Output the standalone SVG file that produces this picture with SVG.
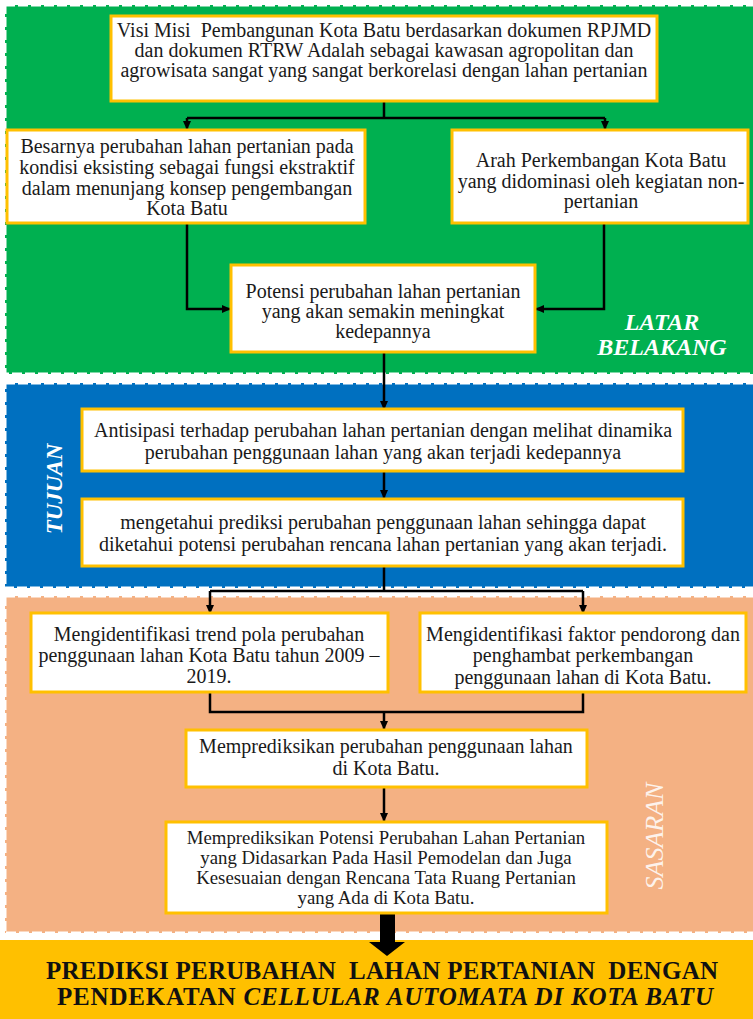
<svg xmlns="http://www.w3.org/2000/svg" width="753" height="1019" viewBox="0 0 753 1019">
<style>
.panel{stroke:#fff;stroke-width:3;stroke-dasharray:10 3}
.box{fill:#fff;stroke:#FFC000;stroke-width:3}
.t{font-family:"Liberation Serif","Times New Roman",serif;font-size:20px;fill:#1a1a1a;text-anchor:middle;white-space:pre}
.t2{font-family:"Liberation Serif","Times New Roman",serif;font-size:18.8px;fill:#1a1a1a;text-anchor:middle}
.lbl{font-family:"Liberation Serif","Times New Roman",serif;font-weight:bold;font-style:italic;fill:#fff}
.c{fill:none;stroke:#000;stroke-width:2.5}
.title{font-family:"Liberation Serif","Times New Roman",serif;font-weight:bold;font-size:25px;fill:#111;white-space:pre}
</style>
<defs>
<marker id="ah" markerWidth="10" markerHeight="10" refX="8" refY="5" orient="auto" markerUnits="userSpaceOnUse">
<path d="M0,1 L9,5 L0,9 Z" fill="#000"/>
</marker>
</defs>
<rect width="753" height="1019" fill="#fff"/>
<g id="panels">
<rect id="panel-latar" class="panel" x="5" y="5" width="760" height="369" fill="#00B050"/>
<rect id="panel-tujuan" class="panel" x="5" y="383" width="760" height="205" fill="#0070C0"/>
<rect id="panel-sasaran" class="panel" x="5" y="596" width="760" height="337" fill="#F4B183"/>
<rect id="panel-hasil" x="0" y="940" width="753" height="79" fill="#FFC000"/>
</g>
<g id="section-labels">
<text class="lbl" font-size="24" x="662" y="330" text-anchor="middle">LATAR</text>
<text class="lbl" font-size="24" x="662" y="355" text-anchor="middle">BELAKANG</text>
<text class="lbl" font-size="23" text-anchor="middle" transform="translate(62,489) rotate(-90)">TUJUAN</text>
<text font-family="Liberation Serif, Times New Roman, serif" font-style="italic" font-size="26" fill="#fff" fill-opacity="0.85" text-anchor="middle" transform="translate(663,836) rotate(-90)">SASARAN</text>
</g>
<g id="connectors">
<polyline class="c" points="384,101 384,118"/>
<polyline class="c" points="187,118 605,118"/>
<line class="c" x1="187" y1="118" x2="187" y2="129" marker-end="url(#ah)"/>
<line class="c" x1="605" y1="118" x2="605" y2="129" marker-end="url(#ah)"/>
<polyline class="c" points="187,223 187,309 230,309" marker-end="url(#ah)"/>
<polyline class="c" points="604,223 604,309 536,309" marker-end="url(#ah)"/>
<line class="c" x1="384" y1="352" x2="384" y2="409" marker-end="url(#ah)"/>
<line class="c" x1="384" y1="464" x2="384" y2="498" marker-end="url(#ah)"/>
<polyline class="c" points="384,566 384,591"/>
<polyline class="c" points="210,591 583,591"/>
<line class="c" x1="210" y1="591" x2="210" y2="613" marker-end="url(#ah)"/>
<line class="c" x1="583" y1="591" x2="583" y2="613" marker-end="url(#ah)"/>
<polyline class="c" points="210,692 210,712 583,712 583,692"/>
<line class="c" x1="384" y1="712" x2="384" y2="729" marker-end="url(#ah)"/>
<line class="c" x1="384" y1="787" x2="384" y2="821" marker-end="url(#ah)"/>
<g id="big-arrow">
<rect x="380" y="913" width="15" height="30" fill="#000"/>
<polygon points="369,942 405,942 387,956" fill="#000"/>
</g>
</g>
<g id="n1">
<rect class="box" x="111" y="16" width="546" height="85"/>
<text class="t" x="384" y="37">Visi Misi  Pembangunan Kota Batu berdasarkan dokumen RPJMD</text>
<text class="t" x="384" y="57">dan dokumen RTRW Adalah sebagai kawasan agropolitan dan</text>
<text class="t" x="384" y="77">agrowisata sangat yang sangat berkorelasi dengan lahan pertanian</text>
</g>
<g id="n2">
<rect class="box" x="7" y="130" width="358" height="93"/>
<text class="t" x="187" y="153">Besarnya perubahan lahan pertanian pada</text>
<text class="t" x="187" y="174">kondisi eksisting sebagai fungsi ekstraktif</text>
<text class="t" x="187" y="195">dalam menunjang konsep pengembangan</text>
<text class="t" x="187" y="215">Kota Batu</text>
</g>
<g id="n3">
<rect class="box" x="452" y="130" width="296" height="93"/>
<text class="t" x="601" y="167">Arah Perkembangan Kota Batu</text>
<text class="t" x="601" y="188">yang didominasi oleh kegiatan non-</text>
<text class="t" x="601" y="208">pertanian</text>
</g>
<g id="n4">
<rect class="box" x="231" y="265" width="304" height="87"/>
<text class="t" x="383" y="298">Potensi perubahan lahan pertanian</text>
<text class="t" x="383" y="318">yang akan semakin meningkat</text>
<text class="t" x="383" y="338">kedepannya</text>
</g>
<g id="n5">
<rect class="box" x="82" y="409" width="601" height="62"/>
<text class="t" x="383" y="437">Antisipasi terhadap perubahan lahan pertanian dengan melihat dinamika</text>
<text class="t" x="383" y="459">perubahan penggunaan lahan yang akan terjadi kedepannya</text>
</g>
<g id="n6">
<rect class="box" x="82" y="499" width="601" height="67"/>
<text class="t" x="383" y="529">mengetahui prediksi perubahan penggunaan lahan sehingga dapat</text>
<text class="t" x="383" y="551">diketahui potensi perubahan rencana lahan pertanian yang akan terjadi.</text>
</g>
<g id="n7">
<rect class="box" x="31" y="613" width="357" height="79"/>
<text class="t" x="209" y="641">Mengidentifikasi trend pola perubahan</text>
<text class="t" x="209" y="662">penggunaan lahan Kota Batu tahun 2009 –</text>
<text class="t" x="209" y="683">2019.</text>
</g>
<g id="n8">
<rect class="box" x="420" y="613" width="326" height="79"/>
<text class="t" x="583" y="641">Mengidentifikasi faktor pendorong dan</text>
<text class="t" x="583" y="662">penghambat perkembangan</text>
<text class="t" x="583" y="684">penggunaan lahan di Kota Batu.</text>
</g>
<g id="n9">
<rect class="box" x="186" y="730" width="401" height="57"/>
<text class="t" x="386" y="753">Memprediksikan perubahan penggunaan lahan</text>
<text class="t" x="386" y="775">di Kota Batu.</text>
</g>
<g id="n10">
<rect class="box" x="166" y="822" width="441" height="91"/>
<text class="t2" x="386" y="844">Memprediksikan Potensi Perubahan Lahan Pertanian</text>
<text class="t2" x="386" y="864">yang Didasarkan Pada Hasil Pemodelan dan Juga</text>
<text class="t2" x="386" y="884">Kesesuaian dengan Rencana Tata Ruang Pertanian</text>
<text class="t2" x="386" y="904">yang Ada di Kota Batu.</text>
</g>
<g id="n11">
<text class="title" x="46" y="979" textLength="672" lengthAdjust="spacing">PREDIKSI PERUBAHAN  LAHAN PERTANIAN  DENGAN</text>
<text class="title" x="57" y="1005" textLength="656" lengthAdjust="spacing">PENDEKATAN <tspan font-style="italic">CELLULAR AUTOMATA DI KOTA BATU</tspan></text>
</g>
</svg>
